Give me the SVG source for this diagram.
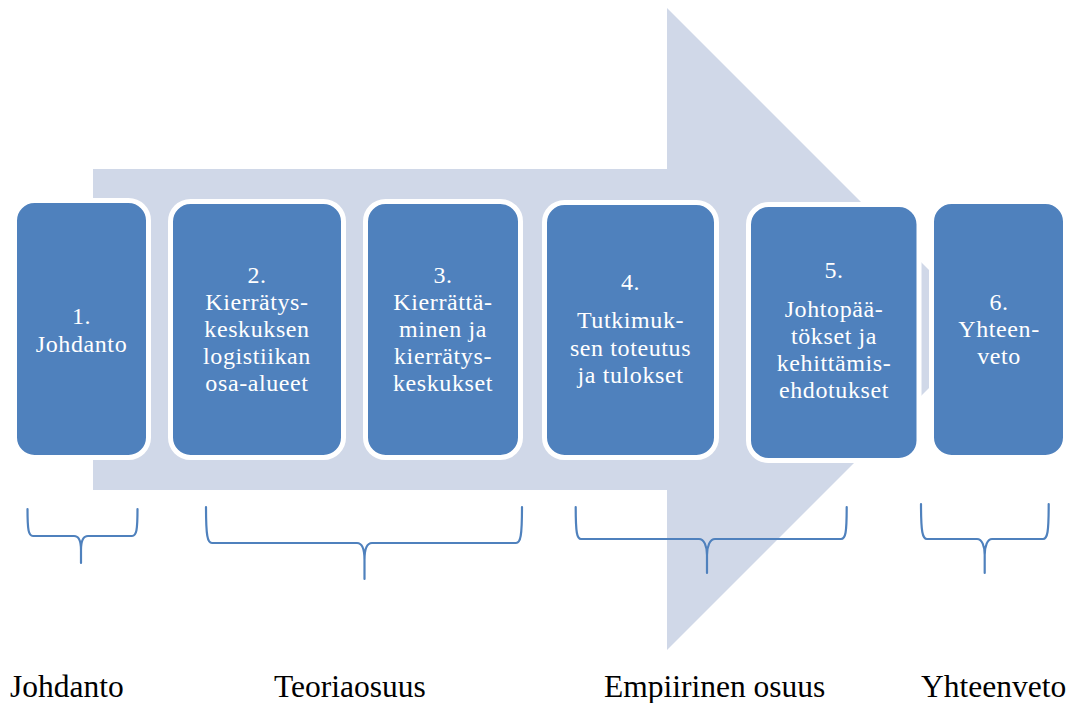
<svg xmlns="http://www.w3.org/2000/svg" width="1080" height="703" viewBox="0 0 1080 703">
<style>
.box{fill:#4F81BD;stroke:#FFFFFF;stroke-width:5}
.bt{font-size:24px;letter-spacing:0.6px;fill:#FFFFFF;text-anchor:middle}
.lab{font-size:31.5px;fill:#000000}
.brace{fill:none;stroke:#4F81BD;stroke-width:2.2;stroke-linecap:round;stroke-linejoin:round}
</style>
<rect width="1080" height="703" fill="#FFFFFF"/>
<g id="arrow">
<polygon points="93,169 667,169 667,8 988,329 667,650 667,490 93,490" fill="#D0D8E8"/>
</g>
<g font-family="'Liberation Serif', 'DejaVu Serif', serif">
<g id="node1">
<rect class="box" x="14.5" y="200.5" width="134" height="257" rx="20"/>
<text class="bt" x="81.5" y="324">1.</text>
<text class="bt" x="81.5" y="352">Johdanto</text>
</g>
<g id="node2">
<rect class="box" x="170.5" y="201.5" width="173" height="256" rx="20"/>
<text class="bt" x="257" y="283">2.</text>
<text class="bt" x="257" y="310">Kierrätys-</text>
<text class="bt" x="257" y="337">keskuksen</text>
<text class="bt" x="257" y="364">logistiikan</text>
<text class="bt" x="257" y="391">osa-alueet</text>
</g>
<g id="node3">
<rect class="box" x="365.5" y="201.5" width="155" height="256" rx="20"/>
<text class="bt" x="443" y="283">3.</text>
<text class="bt" x="443" y="310">Kierrättä-</text>
<text class="bt" x="443" y="337">minen ja</text>
<text class="bt" x="443" y="364">kierrätys-</text>
<text class="bt" x="443" y="391">keskukset</text>
</g>
<g id="node4">
<rect class="box" x="544.5" y="202.5" width="172" height="255" rx="20"/>
<text class="bt" x="630.5" y="290">4.</text>
<text class="bt" x="630.5" y="328">Tutkimuk-</text>
<text class="bt" x="630.5" y="356">sen toteutus</text>
<text class="bt" x="630.5" y="383">ja tulokset</text>
</g>
<g id="node5">
<rect class="box" x="748.5" y="204.5" width="170.5" height="256" rx="20"/>
<text class="bt" x="834" y="278">5.</text>
<text class="bt" x="834" y="317">Johtopää-</text>
<text class="bt" x="834" y="344">tökset ja</text>
<text class="bt" x="834" y="371">kehittämis-</text>
<text class="bt" x="834" y="398">ehdotukset</text>
</g>
<g id="node6">
<rect class="box" x="931.5" y="201.5" width="134" height="256" rx="20"/>
<text class="bt" x="999" y="310">6.</text>
<text class="bt" x="999" y="337">Yhteen-</text>
<text class="bt" x="999" y="364">veto</text>
</g>
<g id="labels">
<text class="lab" x="10" y="697">Johdanto</text>
<text class="lab" x="274" y="697">Teoriaosuus</text>
<text class="lab" x="604" y="697">Empiirinen osuus</text>
<text class="lab" x="921" y="697">Yhteenveto</text>
</g>
</g>
<g id="connectors">
<path class="brace" d="M27.5,509 C27.5,530 28.5,536 33,536 L74,536 C79,536 81,542 81,550 L81,563 M81,550 C81,542 83,536 88,536 L132,536 C136.5,536 137.5,530 137.5,509"/>
<path class="brace" d="M206,507 C206,536 207.5,543 212,543 L357,543 C362,543 364.5,550 364.5,560 L364.5,579 M364.5,560 C364.5,550 367,543 372,543 L516,543 C520.5,543 522,536 522,507"/>
<path class="brace" d="M575.7,507 C575.7,533 577,539 581,539 L699,539 C704,539 707,546 707,555 L707,573 M707,555 C707,546 710,539 715,539 L841,539 C845.5,539 846.7,533 846.7,507"/>
<path class="brace" d="M921,504 C921,532 922.5,539 927,539 L977,539 C982,539 984.7,546 984.7,555 L984.7,573 M984.7,555 C984.7,546 987.5,539 992,539 L1043,539 C1047.5,539 1048.7,532 1048.7,504"/>
</g>
</svg>
